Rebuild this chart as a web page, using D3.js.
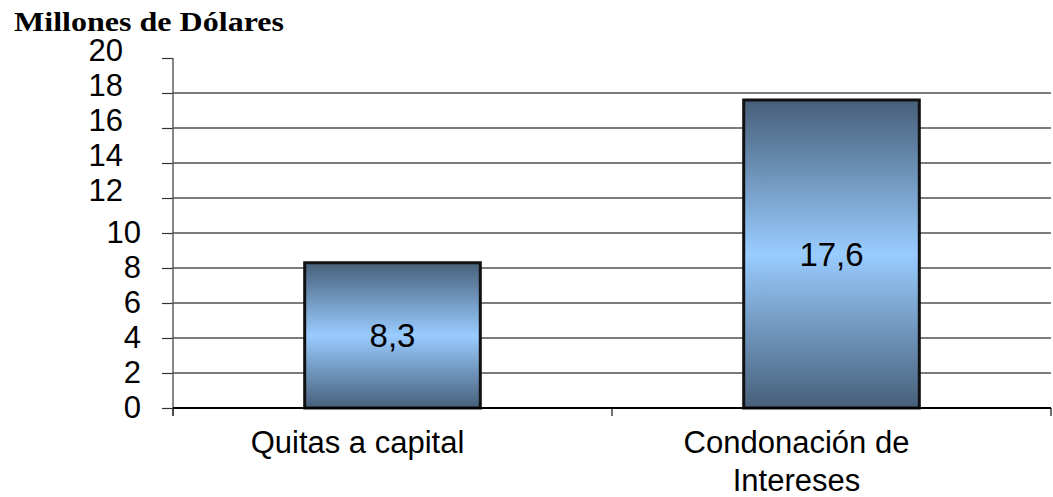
<!DOCTYPE html>
<html>
<head>
<meta charset="utf-8">
<script src="https://cdn.jsdelivr.net/npm/d3@7"></script>
<style>
  body { margin: 0; background: #fff; }
  text { font-family: "Liberation Sans", Arial, sans-serif; fill: #000; }
</style>
</head>
<body>
<svg id="chart" width="1053" height="497"></svg>
<script>
// Chart data
const unitTitle = "Millones de Dólares";
const categories = ["Quitas a capital", "Condonación de Intereses"];
const categoryLines = [["Quitas a capital"], ["Condonación de", "Intereses"]];
const values = [8.3, 17.6];
const valueLabels = ["8,3", "17,6"];
const yTicks = [0, 2, 4, 6, 8, 10, 12, 14, 16, 18, 20];

const plot = { left: 173, right: 1051, top: 58, bottom: 408 };

const svg = d3.select("#chart");

// Vertical gradient for the bars: dark at the edges, light in the middle
const defs = svg.append("defs");
const grad = defs.append("linearGradient")
  .attr("id", "barFill")
  .attr("x1", 0).attr("y1", 0).attr("x2", 0).attr("y2", 1);
grad.append("stop").attr("offset", "0%").attr("stop-color", "#475f79");
grad.append("stop").attr("offset", "50%").attr("stop-color", "#99ccff");
grad.append("stop").attr("offset", "100%").attr("stop-color", "#475f79");

const x = d3.scaleBand()
  .domain(categories)
  .range([plot.left, plot.right])
  .padding(0);

const y = d3.scaleLinear()
  .domain([0, 20])
  .range([plot.bottom, plot.top]);

// Horizontal gridlines
svg.append("g")
  .selectAll("line")
  .data(yTicks.filter(t => t > 0 && t < 20))
  .join("line")
  .attr("x1", plot.left).attr("x2", plot.right)
  .attr("y1", d => y(d)).attr("y2", d => y(d))
  .attr("stroke", "#505050")
  .attr("stroke-width", 1.7);

// Y axis
const yAxis = svg.append("g")
  .attr("transform", `translate(${plot.left},0)`)
  .call(d3.axisLeft(y).tickValues(yTicks).tickSize(11).tickSizeOuter(0).tickPadding(21));
yAxis.select(".domain").remove();
yAxis.selectAll(".tick line").attr("stroke", "#333").attr("stroke-width", 1.2);
yAxis.selectAll(".tick text")
  .style("font-size", "31px")
  .attr("fill", "#000");
// the upper labels sit slightly up and to the left
yAxis.selectAll(".tick text")
  .filter(d => d >= 12)
  .attr("x", -50)
  .attr("dy", "0.08em");

// Vertical axis line (extends slightly below the baseline)
svg.append("line")
  .attr("x1", plot.left).attr("x2", plot.left)
  .attr("y1", y(20)).attr("y2", y(0) + 8)
  .attr("stroke", "#555").attr("stroke-width", 1.4);

// Category boundary ticks along the bottom
const boundaries = [x(categories[0]), ...categories.map(c => x(c) + x.bandwidth())];
svg.append("g")
  .selectAll("line")
  .data(boundaries)
  .join("line")
  .attr("x1", d => d).attr("x2", d => d)
  .attr("y1", y(0)).attr("y2", y(0) + 8)
  .attr("stroke", "#333").attr("stroke-width", 1.4);

// Bars
const barW = x.bandwidth() * 0.4;
svg.append("g")
  .selectAll("rect")
  .data(values)
  .join("rect")
  .attr("x", (d, i) => x(categories[i]) + (x.bandwidth() - barW) / 2)
  .attr("width", barW)
  .attr("y", d => y(d))
  .attr("height", d => y(0) - y(d))
  .attr("fill", "url(#barFill)")
  .attr("stroke", "#111")
  .attr("stroke-width", 3);

// Baseline
svg.append("line")
  .attr("x1", plot.left).attr("x2", plot.right)
  .attr("y1", y(0)).attr("y2", y(0))
  .attr("stroke", "#000").attr("stroke-width", 2);

// Value labels centred in the bars
svg.append("g")
  .selectAll("text")
  .data(values)
  .join("text")
  .attr("x", (d, i) => x(categories[i]) + x.bandwidth() / 2)
  .attr("y", d => (y(d) + y(0)) / 2)
  .attr("dy", "0.35em")
  .attr("text-anchor", "middle")
  .style("font-size", "33px")
  .text((d, i) => valueLabels[i]);

// Category labels
const catG = svg.append("g");
categories.forEach((c, i) => {
  const cx = x(c) + x.bandwidth() / 2 - 35;
  const t = catG.append("text")
    .attr("x", cx)
    .attr("y", 453)
    .attr("text-anchor", "middle")
    .style("font-size", "31px");
  categoryLines[i].forEach((line, j) => {
    t.append("tspan")
      .attr("x", cx)
      .attr("dy", j === 0 ? 0 : 38)
      .text(line);
  });
});

// Unit title
svg.append("text")
  .attr("x", 14)
  .attr("y", 31)
  .style("font-family", "'Liberation Serif', 'Times New Roman', serif")
  .style("font-weight", "bold")
  .style("font-size", "27px")
  .attr("textLength", 270)
  .attr("lengthAdjust", "spacingAndGlyphs")
  .text(unitTitle);
</script>
</body>
</html>
